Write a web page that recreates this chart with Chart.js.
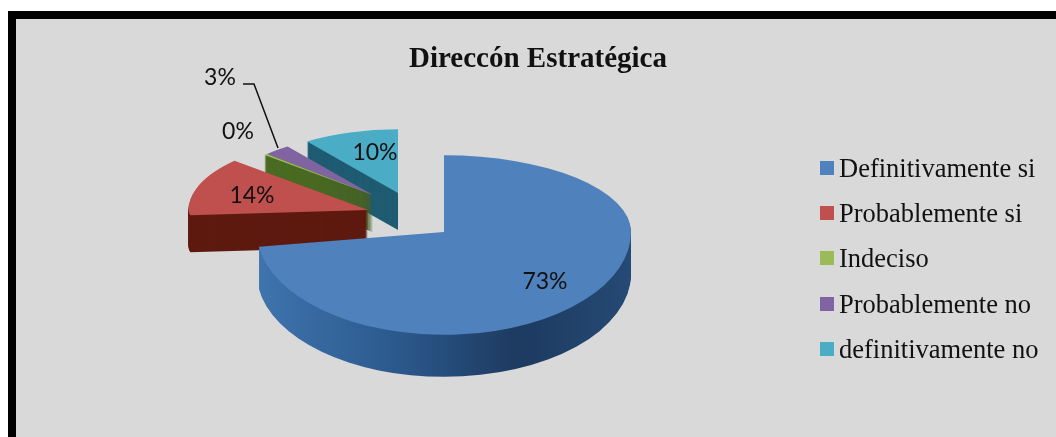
<!DOCTYPE html>
<html>
<head>
<meta charset="utf-8">
<script src="https://cdn.jsdelivr.net/npm/chart.js@4/dist/chart.umd.min.js"></script>
<style>
	html, body { margin: 0; background: #fff; overflow: hidden; }
	#frame { position: absolute; left: 8px; top: 11px; right: 0; bottom: 0; background: #d9d9d9; border-left: 8px solid #000; border-top: 8px solid #000; }
	#canvasPie { position: absolute; left: 0; top: 0; }
</style>
</head>
<body>
<div id="frame"></div>
<canvas id="canvasPie" width="1056" height="437"></canvas>
<script>
// Datos
var labels = ['Definitivamente si', 'Probablemente si', 'Indeciso', 'Probablemente no', 'definitivamente no'];
var values = [73, 14, 0.4, 3, 10];
var colors = ['#4f81bd', '#c0504d', '#9bbb59', '#8064a2', '#4bacc6'];
var titleText = 'Direccón Estratégica';

// Pie 3D: centro, aplastado atras/adelante
var pieCenter = { x: 444, y: 232 };
var backSquash = 0.41;
var frontSquash = 0.55;

// separacion, escala y profundidad de cada porcion
var sliceStyle = [
	{ dx: 0, dy: 0, k: 1, depth: 42, wall: null },
	{ dx: -76, dy: -22, k: 0.96, depth: 37, wall: '#5e1a10', front: 0.2 },
	{ dx: -71, dy: -37, k: 0.78, depth: 37, wall: '#4a6b22' },
	{ dx: -71, dy: -37, k: 0.78, depth: 37, wall: '#45602a' },
	{ dx: -46, dy: -39, k: 0.83, depth: 37, wall: '#1f5c72' }
];
var drawOrder = [4, 3, 2, 1, 0];
var valueLabelPos = [[545, 282], [252, 196], [238, 132], [220, 78], [375, 153]];
var legendRows = [168, 213, 258, 304, 349];

// dibuja algo con la escala de una porcion, mitad de atras y mitad de adelante
function withSlice(ctx, arc, st, shift, paint) {
	[backSquash, st.front || frontSquash].forEach(function (sq, half) {
		ctx.save();
		ctx.translate(pieCenter.x + st.dx, pieCenter.y + st.dy + shift);
		ctx.beginPath();
		ctx.rect(-1200, half ? 0 : -1200, 2400, 1200);
		ctx.clip();
		ctx.scale(st.k, st.k * sq);
		ctx.translate(-arc.x, -arc.y);
		paint();
		ctx.restore();
	});
}

var pie3d = {
	id: 'pie3d',
	beforeDatasetDraw: function (chart, args) {
		var ctx = chart.ctx;
		var arcs = chart.getDatasetMeta(args.index).data;
		drawOrder.forEach(function (i) {
			var arc = arcs[i];
			var st = sliceStyle[i];
			var r = arc.outerRadius;
			var wall = st.wall;
			if (!wall) {
				// lateral azul con sombra
				wall = ctx.createLinearGradient(arc.x - r, 0, arc.x + r, 0);
				wall.addColorStop(0, '#3f74ad');
				wall.addColorStop(0.36, '#2c5a8e');
				wall.addColorStop(0.7, '#1d3a60');
				wall.addColorStop(1, '#254a75');
			}
			for (var d = st.depth; d > 0; d--) {
				withSlice(ctx, arc, st, d, function () {
					ctx.fillStyle = wall;
					ctx.beginPath();
					ctx.moveTo(arc.x, arc.y);
					ctx.arc(arc.x, arc.y, r, arc.startAngle, arc.endAngle);
					ctx.closePath();
					ctx.fill();
				});
			}
			withSlice(ctx, arc, st, 0, function () {
				arc.draw(ctx);
			});
		});
		return false;
	},
	afterDraw: function (chart) {
		var ctx = chart.ctx;
		var total = values.reduce(function (a, b) { return a + b; }, 0);
		ctx.save();
		ctx.fillStyle = '#111';
		ctx.textBaseline = 'middle';

		// porcentajes
		ctx.font = '23px Lato';
		ctx.textAlign = 'center';
		values.forEach(function (v, i) {
			ctx.fillText(Math.round(v / total * 100) + '%', valueLabelPos[i][0], valueLabelPos[i][1]);
		});

		// linea guia del 3%
		ctx.strokeStyle = '#111';
		ctx.lineWidth = 1.5;
		ctx.beginPath();
		ctx.moveTo(243, 84);
		ctx.lineTo(254, 84);
		ctx.lineTo(278, 148);
		ctx.stroke();

		// leyenda
		ctx.font = '26.5px "Liberation Serif"';
		ctx.textAlign = 'left';
		labels.forEach(function (name, i) {
			ctx.fillStyle = colors[i];
			ctx.fillRect(820, legendRows[i] - 7, 14, 14);
			ctx.fillStyle = '#111';
			ctx.fillText(name, 839, legendRows[i] + 2);
		});
		ctx.restore();
	}
};

var ctx = document.getElementById('canvasPie').getContext('2d');
var pieChart = new Chart(ctx, {
	type: 'pie',
	plugins: [pie3d],
	data: {
		labels: labels,
		datasets: [{
			data: values,
			backgroundColor: colors,
			borderWidth: 0,
			radius: 187
		}]
	},
	options: {
		responsive: false,
		animation: false,
		layout: { padding: { left: 20 } },
		plugins: {
			legend: { display: false },
			tooltip: { enabled: false },
			title: {
				display: true,
				text: titleText,
				color: '#111',
				font: { family: '"Liberation Serif"', size: 29, weight: 'bold' },
				padding: { top: 42, bottom: 0 }
			}
		}
	}
});
</script>
</body>
</html>
